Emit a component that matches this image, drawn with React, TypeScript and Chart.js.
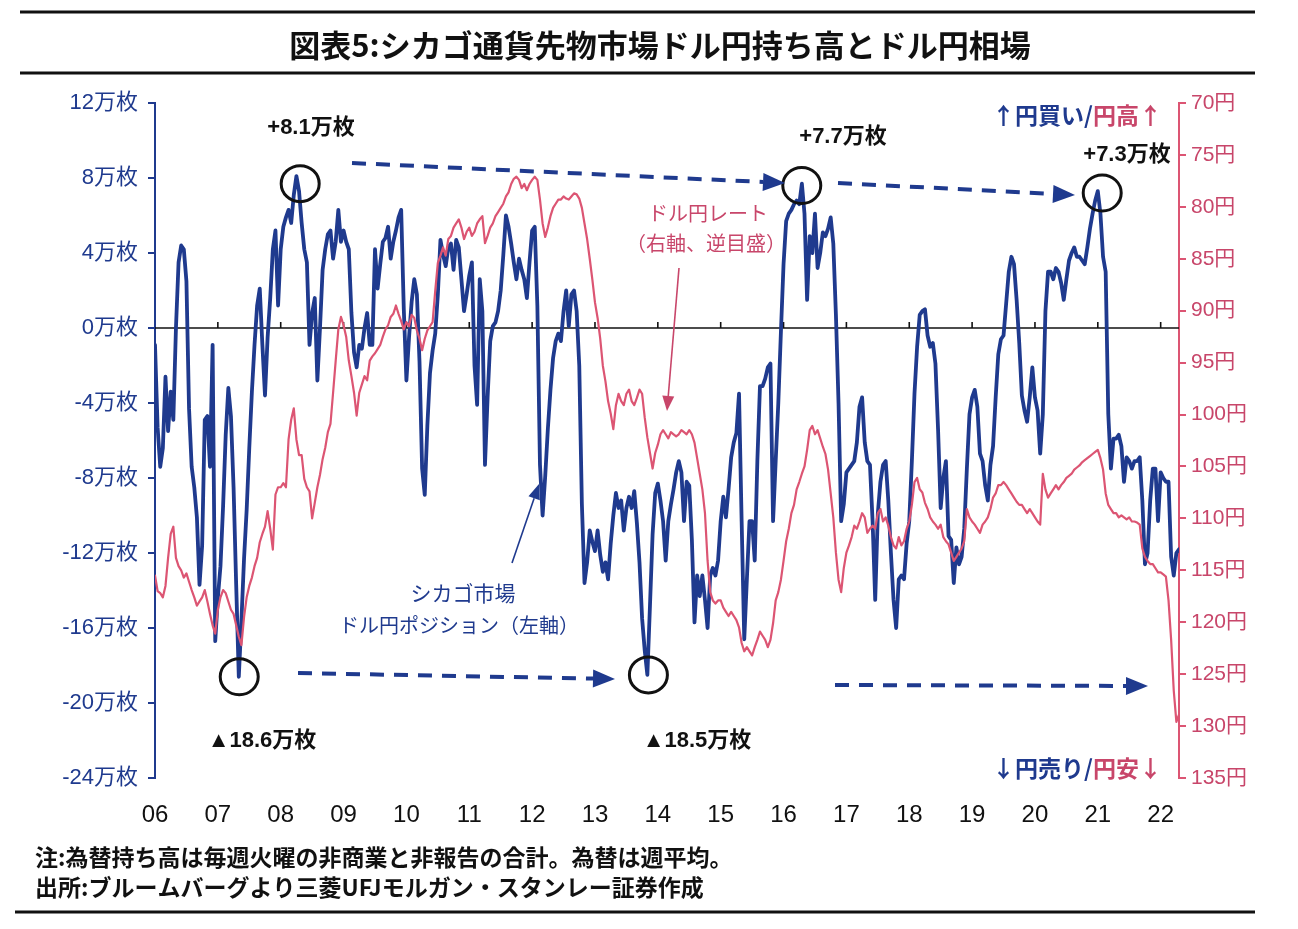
import React, { useEffect, useRef } from "react";
import { Chart, registerables } from "chart.js";

Chart.register(...registerables);

// ---------------- data ----------------
const START_YEAR = 2006;
const POINTS_PER_YEAR = 24; // semi-monthly readings

const YEAR_LABELS = ["06", "07", "08", "09", "10", "11", "12", "13", "14", "15", "16", "17", "18", "19", "20", "21", "22"];
const LEFT_TICKS = [12, 8, 4, 0, -4, -8, -12, -16, -20, -24];
const RIGHT_TICKS = [70, 75, 80, 85, 90, 95, 100, 105, 110, 115, 120, 125, 130, 135];

// シカゴ市場 ドル円ポジション (万枚)
const positionValues = [
  -0.9, -5.3, -7.4, -6.4, -2.6, -5.5, -3.4, -4.9, 0.0, 3.5, 4.4, 4.2, 2.5, -4.3, -7.4, -8.5, -10.1, -13.7, -11.6, -4.9, -4.7, -7.4, -0.9, -16.7,
  -14.4, -12.7, -9.5, -5.7, -3.2, -4.7, -8.5, -13.7, -18.6, -15.6, -12.3, -9.7, -6.4, -3.4, -0.9, 1.2, 2.1, -0.9, -3.6, -0.5, 1.6, 4.2, 5.2, 1.2,
  4.2, 5.4, 5.9, 6.3, 5.6, 7.1, 8.1, 7.3, 5.6, 4.2, 3.5, -0.9, 0.8, 1.6, -2.8, 0.0, 3.1, 4.2, 5.0, 5.2, 3.7, 4.6, 6.3, 4.6,
  5.2, 4.6, 4.2, 0.8, -1.3, -2.1, -0.9, -1.1, 0.0, 0.8, -0.9, -0.9, 4.2, 2.1, 3.4, 4.6, 4.8, 5.4, 3.7, 4.6, 5.2, 5.9, 6.3, 1.0,
  -2.8, -0.5, 1.4, 2.6, 1.8, -1.8, -7.5, -8.9, -5.2, -2.4, -1.2, -0.3, 1.8, 4.7, 3.9, 3.3, 4.3, 4.5, 3.1, 4.7, 4.3, 2.6, 0.9, 1.8,
  2.8, 3.5, -2.0, -4.1, 2.6, 0.9, -7.3, -3.7, -0.7, 0.1, 0.3, 0.9, 2.0, 3.9, 6.0, 5.4, 4.5, 3.5, 2.6, 3.7, 3.1, 2.6, 1.6, 3.5,
  5.2, 5.4, 1.2, -7.3, -10.0, -7.9, -5.4, -3.3, -1.6, -0.7, -0.3, -0.7, 0.9, 2.0, 0.1, 1.8, 2.0, 0.9, -2.0, -9.4, -13.6, -12.5, -10.8, -11.4,
  -11.9, -10.8, -12.1, -13.0, -12.5, -13.4, -11.5, -10.0, -8.8, -9.6, -9.2, -10.8, -9.6, -9.0, -9.6, -8.7, -10.4, -12.5, -15.5, -17.2, -18.5, -14.8, -11.0, -8.8,
  -8.3, -9.2, -10.3, -12.4, -10.3, -9.4, -8.6, -7.7, -7.1, -7.7, -10.3, -8.2, -8.4, -11.3, -15.7, -13.2, -14.3, -13.2, -14.5, -16.0, -13.2, -12.8, -13.2, -12.4,
  -10.3, -9.0, -10.1, -8.6, -6.9, -6.1, -5.6, -3.5, -10.3, -16.6, -13.4, -10.3, -10.3, -12.4, -7.1, -3.1, -3.1, -2.7, -2.1, -1.9, -10.3, -7.1, -4.0, -0.2,
  3.4, 5.7, 6.1, 6.3, 6.6, 6.8, 6.6, 7.7, 6.1, 1.5, 4.9, 4.0, 6.1, 3.2, 4.0, 5.1, 4.9, 5.3, 5.9, 4.5, 0.7, -4.0, -10.3, -9.4,
  -7.7, -7.5, -7.3, -7.1, -6.1, -4.2, -3.7, -6.1, -7.1, -7.3, -10.3, -14.5, -9.9, -8.2, -7.3, -7.1, -9.2, -12.0, -14.5, -16.0, -13.4, -13.2, -13.4, -11.5,
  -10.3, -7.1, -3.5, -1.0, 0.7, 0.9, 1.0, -0.4, -1.0, -0.8, -1.9, -5.4, -9.6, -8.0, -7.1, -11.1, -11.3, -13.6, -11.7, -12.6, -12.2, -10.7, -7.5, -4.6,
  -3.7, -3.3, -4.2, -6.7, -7.1, -8.4, -9.2, -7.3, -6.3, -3.7, -1.4, -0.6, -0.4, 1.3, 3.0, 3.8, 3.4, 1.5, -0.8, -3.6, -4.4, -5.0, -3.7, -2.1,
  -3.7, -4.4, -6.7, -4.6, 0.9, 3.0, 3.0, 2.6, 3.2, 3.0, 2.4, 1.5, 2.6, 3.6, 4.0, 4.3, 3.8, 3.8, 3.6, 3.4, 4.3, 5.3, 6.1, 6.8,
  7.3, 6.1, 3.8, 3.0, -4.6, -7.5, -5.9, -5.9, -5.7, -6.3, -8.2, -6.9, -7.1, -7.5, -7.1, -7.1, -6.9, -9.2, -12.6, -12.0, -9.2, -7.5, -7.5, -10.3,
  -7.7, -8.0, -8.2, -8.2, -12.2, -13.2, -12.0, -11.8,
];

// ドル円レート (円, 週平均)
const usdJpyValues = [
  115.5, 117.0, 117.2, 117.6, 116.5, 113.8, 111.5, 110.8, 113.8, 114.6, 115.0, 115.7, 115.3, 116.1, 116.9, 117.6, 118.4, 118.0, 117.6, 116.9, 118.0, 119.2, 120.3, 121.1,
  118.8, 117.6, 116.9, 117.2, 118.0, 118.8, 119.2, 120.3, 121.4, 122.2, 119.5, 117.6, 116.5, 115.7, 114.6, 113.8, 112.3, 111.5, 110.8, 109.3, 111.0, 113.0, 107.7, 107.0,
  107.0, 106.6, 107.0, 102.4, 100.5, 99.4, 102.4, 103.9, 103.9, 106.2, 107.0, 107.4, 110.0, 108.5, 107.0, 105.8, 104.3, 103.2, 101.7, 100.9, 97.9, 94.8, 91.8, 90.6,
  91.4, 92.5, 94.8, 96.3, 97.9, 100.1, 97.9, 97.1, 96.3, 96.7, 94.8, 94.4, 94.1, 93.7, 93.3, 92.5, 91.8, 91.4, 90.6, 90.3, 89.5, 90.3, 91.0, 91.8,
  91.1, 91.5, 90.4, 90.7, 91.9, 92.7, 93.8, 92.7, 91.9, 91.5, 91.1, 88.1, 85.4, 84.7, 83.9, 84.7, 83.1, 82.8, 82.0, 81.6, 81.2, 82.0, 83.1, 82.4,
  82.0, 82.8, 82.4, 81.6, 81.2, 80.9, 83.5, 82.8, 82.0, 81.6, 80.9, 80.5, 80.1, 79.7, 79.0, 78.6, 77.8, 77.3, 77.1, 77.4, 78.2, 77.8, 78.4, 77.8,
  77.4, 77.1, 77.4, 79.3, 81.6, 82.9, 82.0, 80.9, 80.1, 79.7, 79.3, 79.3, 79.0, 79.2, 79.3, 79.0, 78.7, 78.8, 79.2, 80.1, 81.6, 83.1, 85.0, 87.0,
  89.2, 90.7, 92.7, 95.3, 96.8, 98.7, 99.9, 101.4, 99.1, 98.0, 98.7, 99.1, 98.0, 97.6, 98.7, 99.1, 98.4, 97.6, 98.0, 100.3, 102.2, 103.7, 105.2, 103.7,
  102.9, 101.9, 101.5, 101.9, 102.3, 101.7, 101.9, 102.1, 101.9, 101.5, 101.7, 101.9, 101.5, 101.9, 102.7, 104.2, 105.7, 107.2, 109.5, 114.1, 117.1, 117.9, 118.2, 117.9,
  117.9, 118.6, 119.0, 119.4, 119.0, 119.4, 119.8, 120.5, 122.0, 122.8, 122.4, 122.8, 123.2, 122.4, 121.7, 120.9, 121.3, 121.7, 122.4, 121.7, 120.1, 117.9, 117.1, 115.9,
  114.1, 112.2, 111.0, 109.5, 108.7, 107.2, 106.5, 105.7, 105.0, 103.4, 101.5, 101.1, 101.9, 101.5, 102.3, 103.1, 103.8, 105.3, 107.6, 109.9, 113.3, 115.9, 117.1, 114.8,
  113.3, 112.6, 111.8, 110.7, 111.0, 110.3, 109.5, 109.9, 111.4, 111.0, 110.7, 111.0, 109.5, 109.1, 110.3, 109.9, 110.7, 111.8, 112.6, 112.9, 111.8, 112.6, 112.2, 111.0,
  110.3, 108.7, 106.5, 106.1, 107.2, 107.5, 108.5, 109.1, 109.9, 110.3, 110.6, 111.0, 110.6, 111.8, 112.2, 112.5, 113.3, 114.1, 113.7, 113.3, 112.9, 112.2, 109.1, 109.9,
  110.3, 110.6, 111.0, 111.4, 110.6, 110.3, 109.9, 109.1, 108.0, 107.6, 106.8, 106.8, 106.5, 106.8, 107.2, 107.6, 108.0, 108.4, 108.7, 108.7, 109.1, 109.5, 109.1, 109.5,
  109.9, 110.3, 110.6, 105.7, 107.2, 108.0, 107.6, 107.2, 106.8, 107.2, 106.8, 106.5, 106.1, 105.9, 105.7, 105.3, 105.1, 104.9, 104.6, 104.4, 104.2, 104.0, 103.8, 103.6,
  103.4, 104.2, 105.3, 107.6, 108.7, 109.1, 109.5, 109.5, 109.9, 109.7, 109.9, 110.1, 109.9, 110.3, 110.3, 110.4, 110.6, 112.9, 113.7, 114.1, 114.4, 114.4, 114.8, 115.2,
  115.2, 115.4, 115.6, 117.9, 121.7, 126.6, 129.6, 128.9,
];

// ---------------- styles ----------------
const W = 1298;
const H = 929;
const NAVY = "#1f3a8e";
const RED = "#dc5573";
const RED_TEXT = "#c8466a";
const JP = "'Noto Sans CJK JP', sans-serif";
const MIX = "'Liberation Sans', 'Noto Sans CJK JP', sans-serif";
const NARROW = "'Liberation Sans Narrow', 'Liberation Sans', 'Noto Sans CJK JP', sans-serif";

function toPoints(values: number[]) {
  return values.map((v, i) => ({ x: START_YEAR + i / POINTS_PER_YEAR, y: v }));
}

function arrowHead(ctx: CanvasRenderingContext2D, x1: number, y1: number, x2: number, y2: number, len: number, half: number, color: string) {
  const a = Math.atan2(y2 - y1, x2 - x1);
  const c = Math.cos(a);
  const s = Math.sin(a);
  ctx.beginPath();
  ctx.moveTo(x2, y2);
  ctx.lineTo(x2 - len * c + half * s, y2 - len * s - half * c);
  ctx.lineTo(x2 - len * c - half * s, y2 - len * s + half * c);
  ctx.closePath();
  ctx.fillStyle = color;
  ctx.fill();
}

function dashedArrow(ctx: CanvasRenderingContext2D, x1: number, y1: number, x2: number, y2: number) {
  const a = Math.atan2(y2 - y1, x2 - x1);
  const len = 22;
  ctx.save();
  ctx.setLineDash([14, 10]);
  ctx.lineWidth = 4;
  ctx.strokeStyle = NAVY;
  ctx.beginPath();
  ctx.moveTo(x1, y1);
  ctx.lineTo(x2 - len * Math.cos(a), y2 - len * Math.sin(a));
  ctx.stroke();
  ctx.restore();
  arrowHead(ctx, x1, y1, x2, y2, len, 9, NAVY);
}

function solidArrow(ctx: CanvasRenderingContext2D, x1: number, y1: number, x2: number, y2: number, color: string) {
  const a = Math.atan2(y2 - y1, x2 - x1);
  const len = 15;
  ctx.save();
  ctx.lineWidth = 1.6;
  ctx.strokeStyle = color;
  ctx.beginPath();
  ctx.moveTo(x1, y1);
  ctx.lineTo(x2 - len * Math.cos(a), y2 - len * Math.sin(a));
  ctx.stroke();
  ctx.restore();
  arrowHead(ctx, x1, y1, x2, y2, len, 6, color);
}

function runsRight(ctx: CanvasRenderingContext2D, runs: { t: string; c: string }[], right: number, y: number, font: string) {
  ctx.font = font;
  const total = runs.reduce((s, r) => s + ctx.measureText(r.t).width, 0);
  let x = right - total;
  ctx.textAlign = "left";
  ctx.textBaseline = "middle";
  for (const r of runs) {
    ctx.fillStyle = r.c;
    ctx.fillText(r.t, x, y);
    x += ctx.measureText(r.t).width;
  }
}

const decorPlugin = {
  id: "decor",
  beforeDatasetsDraw(chart: any) {
    const { ctx, chartArea, scales } = chart;
    const y0 = scales.y.getPixelForValue(0);
    ctx.save();
    ctx.strokeStyle = "#111";
    ctx.lineWidth = 1.6;
    ctx.beginPath();
    ctx.moveTo(chartArea.left, y0);
    ctx.lineTo(chartArea.right, y0);
    ctx.stroke();
    for (let yr = START_YEAR + 1; yr <= START_YEAR + YEAR_LABELS.length - 1; yr++) {
      const x = scales.x.getPixelForValue(yr);
      ctx.beginPath();
      ctx.moveTo(x, y0);
      ctx.lineTo(x, y0 - 6);
      ctx.stroke();
    }
    ctx.restore();
  },
  afterDraw(chart: any) {
    const { ctx, scales } = chart;
    const px = (t: number) => scales.x.getPixelForValue(t);
    const py = (v: number) => scales.y.getPixelForValue(v);
    ctx.save();

    // rules
    ctx.strokeStyle = "#111";
    ctx.lineWidth = 3;
    [[12, 20, 1255], [73, 20, 1255], [912, 15, 1255]].forEach(([y, a, b]) => {
      ctx.beginPath();
      ctx.moveTo(a, y);
      ctx.lineTo(b, y);
      ctx.stroke();
    });

    // title
    ctx.fillStyle = "#111";
    ctx.textAlign = "center";
    ctx.textBaseline = "middle";
    ctx.font = `bold 31px ${JP}`;
    ctx.fillText("図表5:シカゴ通貨先物市場ドル円持ち高とドル円相場", 660, 45);

    // circles around extremes
    ctx.lineWidth = 3;
    ctx.strokeStyle = "#111";
    const circles: [number, number][] = [[2008.31, 7.7], [2016.29, 7.6], [2021.07, 7.2], [2007.34, -18.6], [2013.85, -18.5]];
    circles.forEach(([t, v]) => {
      ctx.beginPath();
      ctx.ellipse(px(t), py(v), 19, 18, 0, 0, Math.PI * 2);
      ctx.stroke();
    });

    // peak labels
    ctx.fillStyle = "#111";
    ctx.font = `bold 22px ${MIX}`;
    ctx.textAlign = "center";
    ctx.fillText("+8.1万枚", 311, 128);
    ctx.fillText("+7.7万枚", 843, 137);
    ctx.fillText("+7.3万枚", 1127, 155);
    ctx.fillText("▲18.6万枚", 262, 741);
    ctx.fillText("▲18.5万枚", 697, 741);

    // dashed arrows
    dashedArrow(ctx, 352, 163, 785, 183);
    dashedArrow(ctx, 838, 183, 1075, 195);
    dashedArrow(ctx, 298, 673, 615, 679);
    dashedArrow(ctx, 835, 685, 1148, 686);

    // series labels
    ctx.textAlign = "center";
    ctx.fillStyle = RED_TEXT;
    ctx.font = `20px ${JP}`;
    ctx.fillText("ドル円レート", 708, 213);
    ctx.fillText("（右軸、逆目盛）", 706, 243);
    solidArrow(ctx, 679, 268, 667, 411, RED_TEXT);

    ctx.fillStyle = NAVY;
    ctx.font = `21px ${JP}`;
    ctx.fillText("シカゴ市場", 463, 593);
    ctx.font = `20px ${JP}`;
    ctx.fillText("ドル円ポジション（左軸）", 459, 625);
    solidArrow(ctx, 512, 563, 539, 484, NAVY);

    // direction legends
    runsRight(ctx, [{ t: "↑円買い/", c: NAVY }, { t: "円高↑", c: RED_TEXT }], 1162, 115, `bold 23px ${JP}`);
    runsRight(ctx, [{ t: "↓円売り/", c: NAVY }, { t: "円安↓", c: RED_TEXT }], 1162, 768, `bold 23px ${JP}`);

    // notes
    ctx.fillStyle = "#111";
    ctx.textAlign = "left";
    ctx.textBaseline = "middle";
    ctx.font = `bold 23px ${JP}`;
    ctx.fillText("注:為替持ち高は毎週火曜の非商業と非報告の合計。為替は週平均。", 35, 857);
    ctx.fillText("出所:ブルームバーグより三菱UFJモルガン・スタンレー証券作成", 35, 887);

    ctx.restore();
  },
};

export default function App() {
  const ref = useRef<HTMLCanvasElement | null>(null);

  useEffect(() => {
    if (!ref.current) return;
    const xMax = START_YEAR + (positionValues.length - 1) / POINTS_PER_YEAR;
    const chart = new Chart(ref.current, {
      type: "line",
      data: {
        datasets: [
          {
            label: "ドル円レート（右軸、逆目盛）",
            data: toPoints(usdJpyValues),
            yAxisID: "yR",
            borderColor: RED,
            borderWidth: 2.2,
            pointRadius: 0,
            order: 0,
          },
          {
            label: "シカゴ市場ドル円ポジション（左軸）",
            data: toPoints(positionValues),
            yAxisID: "y",
            borderColor: NAVY,
            borderWidth: 3.8,
            pointRadius: 0,
            order: 1,
          },
        ],
      },
      options: {
        responsive: false,
        animation: false,
        devicePixelRatio: 1,
        layout: { padding: { top: 103, bottom: 0, left: 0, right: 0 } },
        elements: { line: { tension: 0, borderJoinStyle: "round", borderCapStyle: "round" } },
        plugins: { legend: { display: false }, tooltip: { enabled: false }, title: { display: false } },
        scales: {
          x: {
            type: "linear",
            min: START_YEAR,
            max: xMax,
            grid: { display: false, drawTicks: false },
            border: { display: false },
            ticks: {
              stepSize: 1,
              includeBounds: false,
              autoSkip: false,
              maxRotation: 0,
              padding: 23,
              color: "#111",
              font: { family: NARROW, size: 24 },
              callback: (v: any) => YEAR_LABELS[Math.round(Number(v)) - START_YEAR] ?? "",
            },
            afterFit: (s: any) => {
              s.height = H - 778;
            },
          },
          y: {
            position: "left",
            min: LEFT_TICKS[LEFT_TICKS.length - 1],
            max: LEFT_TICKS[0],
            grid: { drawOnChartArea: false, color: NAVY, tickLength: 7, lineWidth: 2 },
            border: { color: NAVY, width: 2 },
            ticks: {
              stepSize: 4,
              padding: 10,
              color: NAVY,
              font: { family: NARROW, size: 22 },
              callback: (v: any) => `${v}万枚`,
            },
            afterFit: (s: any) => {
              s.width = 155;
            },
          },
          yR: {
            position: "right",
            min: RIGHT_TICKS[0],
            max: RIGHT_TICKS[RIGHT_TICKS.length - 1],
            reverse: true,
            grid: { drawOnChartArea: false, color: RED, tickLength: 7, lineWidth: 2 },
            border: { color: RED, width: 2 },
            ticks: {
              stepSize: 5,
              padding: 5,
              color: RED_TEXT,
              font: { family: NARROW, size: 21 },
              callback: (v: any) => `${v}円`,
            },
            afterFit: (s: any) => {
              s.width = W - 1179;
            },
          },
        },
      } as any,
      plugins: [decorPlugin],
    });
    return () => chart.destroy();
  }, []);

  return (
    <div style={{ position: "fixed", left: 0, top: 0, width: W, height: H, background: "#fff" }}>
      <canvas ref={ref} width={W} height={H} style={{ display: "block" }} />
    </div>
  );
}
